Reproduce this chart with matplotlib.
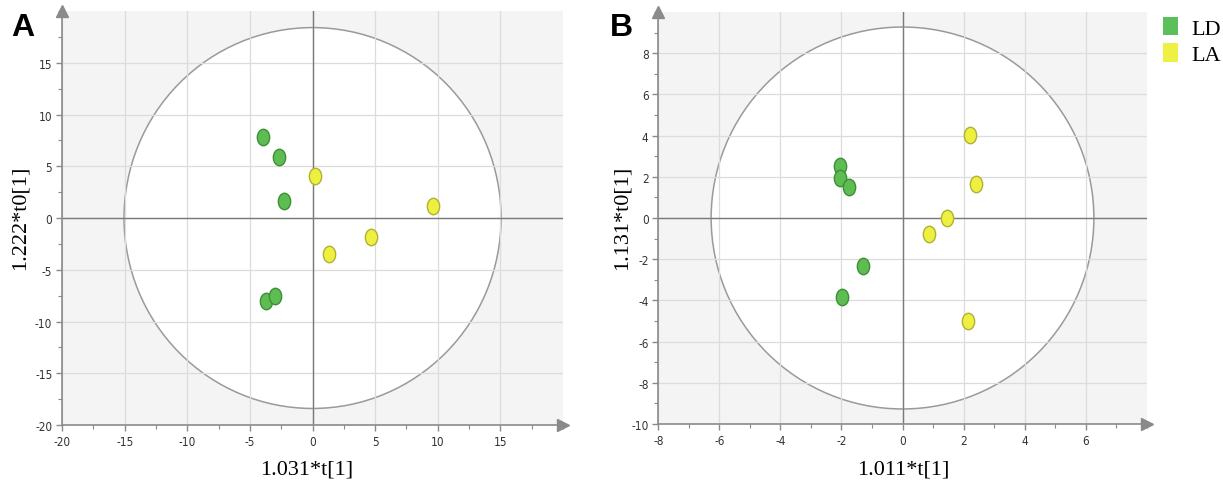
import matplotlib as mpl
mpl.use("Agg")
import matplotlib.pyplot as plt
import matplotlib.patches as mpatches
import matplotlib.path as mpath
from matplotlib.ticker import MultipleLocator
from matplotlib.transforms import Affine2D

# panel A scores
a_ld_x = [-3.96, -2.69, -2.26, -3.75, -3.0]
a_ld_y = [7.8, 5.87, 1.67, -7.97, -7.49]
a_la_x = [0.21, 1.33, 4.68, 9.6]
a_la_y = [4.1, -3.49, -1.84, 1.12]

# panel B scores
b_ld_x = [-2.05, -2.05, -1.76, -1.28, -1.98]
b_ld_y = [2.52, 1.95, 1.51, -2.34, -3.82]
b_la_x = [2.22, 2.42, 1.47, 0.86, 2.16]
b_la_y = [4.03, 1.66, 0.0, -0.8, -5.01]

groups = ["LD", "LA"]

green = "#5dbd52"
green_edge = "#3c8f34"
yellow = "#eef040"
yellow_edge = "#b1b035"

oval = mpath.Path.unit_circle().transformed(Affine2D().scale(0.75, 1.0))

tick_font = {"family": "DejaVu Sans", "stretch": "condensed", "size": 8.5}


def setup_axes(ax, xlim, ylim, xmaj, ymaj, xmin, ymin, rx, ry, xticks, yticks):

	ax.set_facecolor("#f4f4f4")
	ax.set_xlim(xlim)
	ax.set_ylim(ylim)

	ell = mpatches.Ellipse((0, 0), 2 * rx, 2 * ry, facecolor = "white", edgecolor = "#9a9a9a", lw = 1.1, zorder = 0.2)
	ax.add_patch(ell)

	ax.set_axisbelow(True)
	ax.xaxis.set_major_locator(MultipleLocator(xmaj))
	ax.yaxis.set_major_locator(MultipleLocator(ymaj))
	ax.xaxis.set_minor_locator(MultipleLocator(xmin))
	ax.yaxis.set_minor_locator(MultipleLocator(ymin))
	ax.grid(True, which = "major", color = "#dcdcdc", lw = 0.9)

	ax.set_xticks(xticks)
	ax.set_yticks(yticks)
	ax.set_xticklabels([str(t) for t in xticks], fontdict = tick_font, color = "#333333")
	ax.set_yticklabels([str(t) for t in yticks], fontdict = tick_font, color = "#333333")

	ax.axhline(0, color = "#7a7a7a", lw = 1.0, zorder = 0.6)
	ax.axvline(0, color = "#7a7a7a", lw = 1.0, zorder = 0.6)

	for s in ["top", "right"]:
		ax.spines[s].set_visible(False)
	#end_for
	for s in ["left", "bottom"]:
		ax.spines[s].set_color("#8a8a8a")
		ax.spines[s].set_linewidth(1.2)
	#end_for

	ax.tick_params(which = "major", length = 4, color = "#8a8a8a", width = 1, pad = 3)
	ax.tick_params(which = "minor", length = 3, color = "#8a8a8a", width = 0.8)

	# arrow heads at the end of the axes
	ax.plot(0, 1, marker = "^", color = "#8a8a8a", markersize = 8, transform = ax.transAxes, clip_on = False)
	ax.plot(1, 0, marker = ">", color = "#8a8a8a", markersize = 8, transform = ax.transAxes, clip_on = False)

#end_def


fig = plt.figure(figsize = (12.23, 4.85), dpi = 100)

ax0 = fig.add_axes([0.0507, 0.1216, 0.4097, 0.8536])
ax1 = fig.add_axes([0.5383, 0.1237, 0.3993, 0.8495])

setup_axes(ax0, (-20, 20), (-20, 20), 5, 5, 2.5, 2.5, 15.05, 18.4,
	[-20, -15, -10, -5, 0, 5, 10, 15], [-20, -15, -10, -5, 0, 5, 10, 15])
setup_axes(ax1, (-8, 8), (-10, 10), 2, 2, 1, 1, 6.27, 9.27,
	[-8, -6, -4, -2, 0, 2, 4, 6], [-10, -8, -6, -4, -2, 0, 2, 4, 6, 8])

ax0.scatter(a_ld_x, a_ld_y, s = 140, marker = oval, c = green, edgecolors = green_edge, linewidths = 1, zorder = 3)
ax0.scatter(a_la_x, a_la_y, s = 140, marker = oval, c = yellow, edgecolors = yellow_edge, linewidths = 1, zorder = 3)
ax1.scatter(b_ld_x, b_ld_y, s = 140, marker = oval, c = green, edgecolors = green_edge, linewidths = 1, zorder = 3)
ax1.scatter(b_la_x, b_la_y, s = 140, marker = oval, c = yellow, edgecolors = yellow_edge, linewidths = 1, zorder = 3)

serif = "Liberation Serif"

fig.text(307 / 1223, 1 - 470 / 485, "1.031*t[1]", family = serif, fontsize = 16, ha = "center", va = "center")
fig.text(903 / 1223, 1 - 470 / 485, "1.011*t[1]", family = serif, fontsize = 16, ha = "center", va = "center")
fig.text(20 / 1223, 1 - 218 / 485, "1.222*t0[1]", family = serif, fontsize = 16, ha = "center", va = "center", rotation = 90)
fig.text(622 / 1223, 1 - 218 / 485, "1.131*t0[1]", family = serif, fontsize = 16, ha = "center", va = "center", rotation = 90)

fig.text(11 / 1223, 1 - 28 / 485, "A", family = "Liberation Sans", fontweight = "bold", fontsize = 23, ha = "left", va = "center")
fig.text(610 / 1223, 1 - 28 / 485, "B", family = "Liberation Sans", fontweight = "bold", fontsize = 23, ha = "left", va = "center")

handles = [
	mpatches.Patch(facecolor = "#5cc05a", edgecolor = "none"),
	mpatches.Patch(facecolor = "#eef043", edgecolor = "none"),
]
fig.legend(handles, groups, loc = "upper left", bbox_to_anchor = (1163 / 1223, 1 - 18 / 485),
	frameon = False, prop = {"family": serif, "size": 16},
	handlelength = 0.68, handleheight = 0.9, handletextpad = 0.6, labelspacing = 0.2, borderaxespad = 0, borderpad = 0)

fig.savefig("out.png", dpi = 100)
